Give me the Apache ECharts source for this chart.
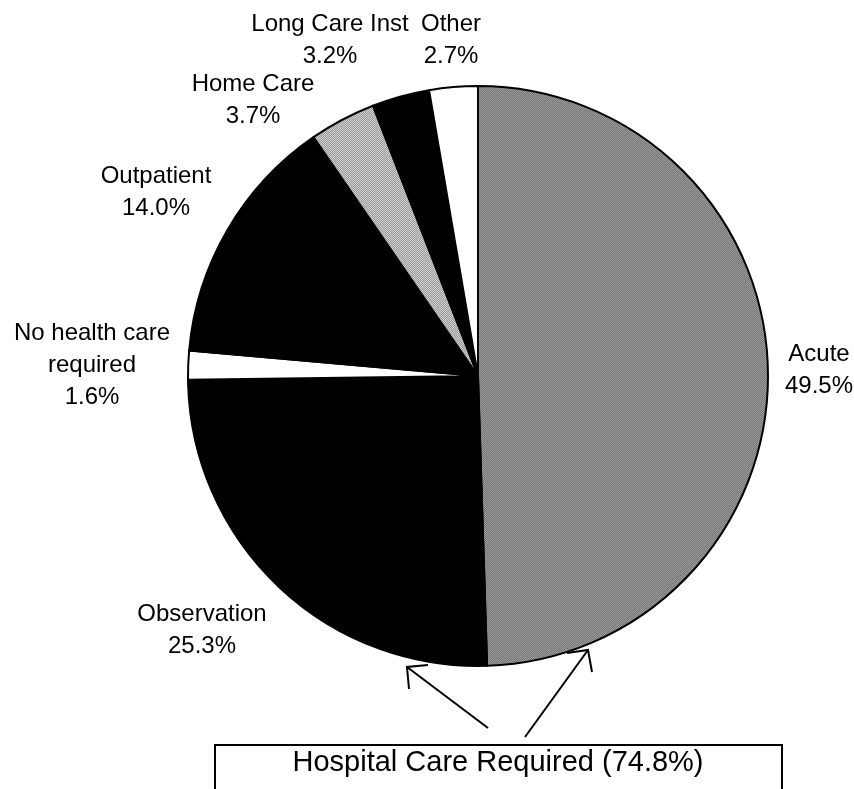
<!DOCTYPE html>
<html>
<head>
<meta charset="utf-8">
<script src="https://cdn.jsdelivr.net/npm/echarts@6/dist/echarts.min.js"></script>
<style>
  html, body { margin: 0; padding: 0; background: #fff; }
  #main { width: 854px; height: 789px; }
</style>
</head>
<body>
<div id="main"></div>
<script>
// data (percent of cases)
const careNames = ['Acute', 'Observation', 'No health care\nrequired', 'Outpatient', 'Home Care', 'Long Care Inst', 'Other'];
const careShares = [49.5, 25.3, 1.6, 14.0, 3.7, 3.2, 2.7];
const hospitalIdx = [0, 1]; // Acute + Observation

// label centres, in the order of careNames
const labelPos = [[819, 370], [202, 630], [92, 365], [156, 192], [253, 100], [330, 40], [451, 40]];

// small checkerboard to imitate the dithered greys of the print
function dither(c1, c2) {
  const cv = document.createElement('canvas');
  cv.width = 4;
  cv.height = 4;
  const ctx = cv.getContext('2d');
  for (let y = 0; y < 4; y++) {
    for (let x = 0; x < 4; x++) {
      ctx.fillStyle = (x + y) % 2 ? c1 : c2;
      ctx.fillRect(x, y, 1, 1);
    }
  }
  return { image: cv, repeat: 'repeat' };
}

const fills = [
  dither('#747474', '#9c9c9c'),
  '#000',
  '#fff',
  '#000',
  dither('#9a9a9a', '#cfcfcf'),
  '#000',
  '#fff'
];

const hospitalTotal = hospitalIdx.reduce((s, i) => s + careShares[i], 0);

const chart = echarts.init(document.getElementById('main'));
const font = '"Liberation Sans", Arial, sans-serif';

chart.setOption({
  animation: false,
  backgroundColor: '#fff',
  series: [
    {
      type: 'pie',
      center: [478, 376],
      radius: 290,
      startAngle: 90,
      clockwise: true,
      silent: true,
      avoidLabelOverlap: false,
      itemStyle: { borderColor: '#000', borderWidth: 2 },
      label: {
        show: true,
        position: 'outside',
        color: '#000',
        fontFamily: font,
        fontSize: 24,
        lineHeight: 32,
        align: 'center',
        formatter: p => p.name + '\n' + p.value.toFixed(1) + '%'
      },
      labelLine: { show: false },
      labelLayout: p => ({
        x: labelPos[p.dataIndex][0],
        y: labelPos[p.dataIndex][1],
        align: 'center',
        verticalAlign: 'middle'
      }),
      data: careNames.map((n, i) => ({
        name: n,
        value: careShares[i],
        itemStyle: { color: fills[i] }
      }))
    }
  ],
  graphic: [
    {
      type: 'rect',
      shape: { x: 215, y: 745, width: 567, height: 80 },
      style: { fill: '#fff', stroke: '#000', lineWidth: 2 }
    },
    {
      type: 'text',
      x: 498,
      y: 763,
      style: {
        text: 'Hospital Care Required (' + hospitalTotal.toFixed(1) + '%)',
        fontFamily: font,
        fontSize: 29,
        fill: '#000',
        align: 'center',
        verticalAlign: 'middle'
      }
    },
    // arrows from the box to the two hospital slices
    {
      type: 'polyline',
      shape: { points: [[488, 728], [407, 667]] },
      style: { stroke: '#000', lineWidth: 2, fill: null }
    },
    {
      type: 'polyline',
      shape: { points: [[428, 665], [407, 667], [409, 689]] },
      style: { stroke: '#000', lineWidth: 2, fill: null }
    },
    {
      type: 'polyline',
      shape: { points: [[525, 737], [588, 650]] },
      style: { stroke: '#000', lineWidth: 2, fill: null }
    },
    {
      type: 'polyline',
      shape: { points: [[567, 653], [588, 650], [592, 672]] },
      style: { stroke: '#000', lineWidth: 2, fill: null }
    }
  ]
});
</script>
</body>
</html>
